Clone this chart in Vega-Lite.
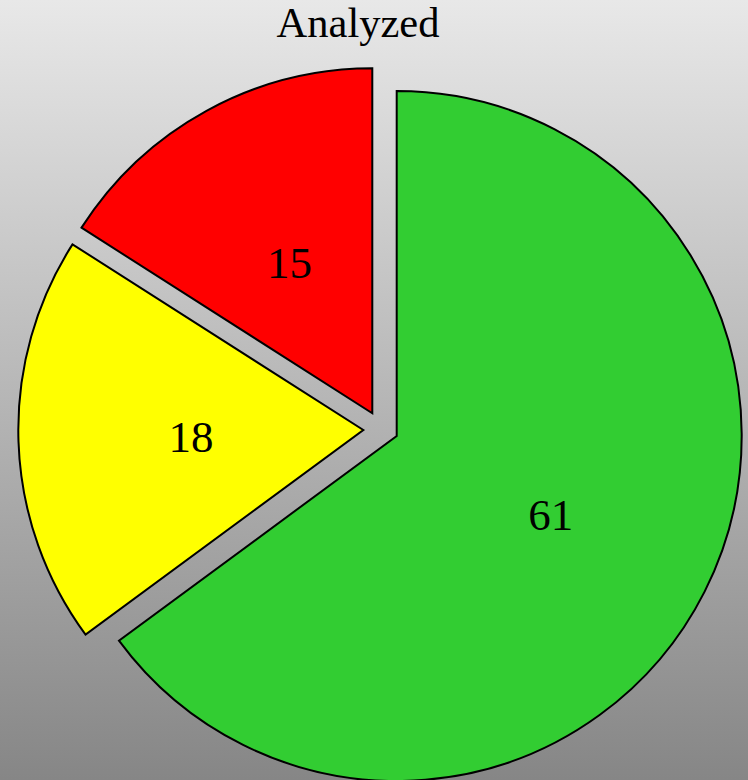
{
  "$schema": "https://vega.github.io/schema/vega-lite/v6.json",
  "width": 748,
  "height": 780,
  "autosize": {"type": "none"},
  "padding": 0,
  "title": {
    "text": "Analyzed",
    "font": "Liberation Serif",
    "fontSize": 42.5,
    "fontWeight": "normal",
    "color": "black",
    "anchor": "middle",
    "baseline": "alphabetic",
    "offset": -79,
    "dx": -16,
    "zindex": 1
  },
  "config": {"view": {"stroke": null}},
  "data": {
    "values": [
      {"status": "Passed", "count": 61, "k": 1},
      {"status": "Warning", "count": 18, "k": 2},
      {"status": "Failed", "count": 15, "k": 3}
    ]
  },
  "layer": [
    {
      "data": {"values": [{"panel": "background"}]},
      "mark": {
        "type": "rect",
        "fill": {
          "gradient": "linear",
          "x1": 0, "y1": 0, "x2": 0, "y2": 1,
          "stops": [
            {"offset": 0, "color": "#e8e8e8"},
            {"offset": 1, "color": "#868686"}
          ]
        }
      },
      "encoding": {}
    },
    {
      "mark": {"type": "arc", "radius": 345, "xOffset": 22.7, "yOffset": 46, "stroke": "black", "strokeWidth": 2},
      "encoding": {
        "theta": {"field": "count", "type": "quantitative", "stack": true},
        "order": {"field": "k", "type": "quantitative"},
        "color": {"field": "status", "type": "nominal", "scale": {"domain": ["Passed", "Warning", "Failed"], "range": ["#32CD32", "#FFFF00", "#FF0000"]}, "legend": null},
        "opacity": {"condition": {"test": "datum.status === 'Passed'", "value": 1}, "value": 0}
      }
    },
    {
      "mark": {"type": "arc", "radius": 345, "xOffset": -10.7, "yOffset": 40, "stroke": "black", "strokeWidth": 2},
      "encoding": {
        "theta": {"field": "count", "type": "quantitative", "stack": true},
        "order": {"field": "k", "type": "quantitative"},
        "color": {"field": "status", "type": "nominal", "legend": null},
        "opacity": {"condition": {"test": "datum.status === 'Warning'", "value": 1}, "value": 0}
      }
    },
    {
      "mark": {"type": "arc", "radius": 345, "xOffset": -1.7, "yOffset": 23.3, "stroke": "black", "strokeWidth": 2},
      "encoding": {
        "theta": {"field": "count", "type": "quantitative", "stack": true},
        "order": {"field": "k", "type": "quantitative"},
        "color": {"field": "status", "type": "nominal", "legend": null},
        "opacity": {"condition": {"test": "datum.status === 'Failed'", "value": 1}, "value": 0}
      }
    },
    {
      "mark": {"type": "text", "radius": 172.5, "xOffset": 22.7, "yOffset": 46, "dy": 2, "font": "Liberation Serif", "fontSize": 45, "color": "black"},
      "encoding": {
        "theta": {"field": "count", "type": "quantitative", "stack": true},
        "order": {"field": "k", "type": "quantitative"},
        "text": {"field": "count", "type": "quantitative"},
        "opacity": {"condition": {"test": "datum.status === 'Passed'", "value": 1}, "value": 0}
      }
    },
    {
      "mark": {"type": "text", "radius": 172.5, "xOffset": -10.7, "yOffset": 40, "dy": 2, "font": "Liberation Serif", "fontSize": 45, "color": "black"},
      "encoding": {
        "theta": {"field": "count", "type": "quantitative", "stack": true},
        "order": {"field": "k", "type": "quantitative"},
        "text": {"field": "count", "type": "quantitative"},
        "opacity": {"condition": {"test": "datum.status === 'Warning'", "value": 1}, "value": 0}
      }
    },
    {
      "mark": {"type": "text", "radius": 172.5, "xOffset": -1.7, "yOffset": 23.3, "dy": 2, "font": "Liberation Serif", "fontSize": 45, "color": "black"},
      "encoding": {
        "theta": {"field": "count", "type": "quantitative", "stack": true},
        "order": {"field": "k", "type": "quantitative"},
        "text": {"field": "count", "type": "quantitative"},
        "opacity": {"condition": {"test": "datum.status === 'Failed'", "value": 1}, "value": 0}
      }
    }
  ]
}
